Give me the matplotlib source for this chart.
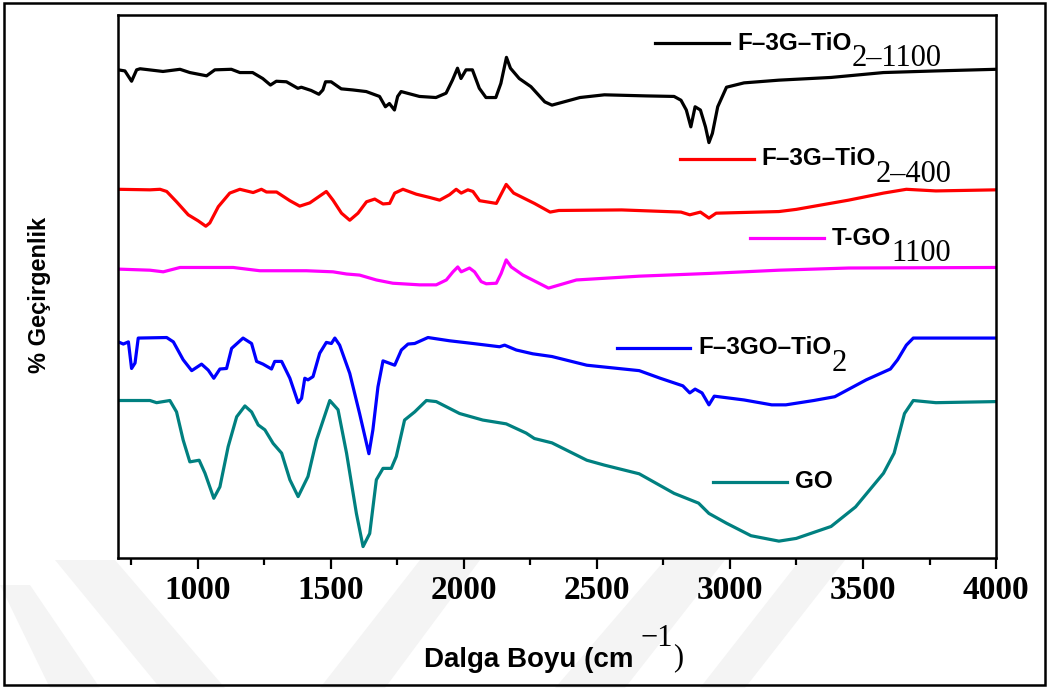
import numpy as np
import matplotlib
matplotlib.use('Agg')
import matplotlib.pyplot as plt
from matplotlib.lines import Line2D
from matplotlib.patches import Rectangle, Polygon

# FTIR spectra: wavenumber (cm-1), %T (stacked, a.u.)
wn_f3g1100 = [701, 726, 751, 770, 783, 869, 933, 970, 1033, 1064, 1126, 1158, 1206, 1244, 1273,
              1295, 1333, 1376, 1389, 1426, 1455, 1470, 1480, 1501, 1539, 1582, 1633, 1683, 1705,
              1720, 1739, 1751, 1764, 1833, 1895, 1933, 1957, 1976, 1989, 2008, 2032, 2058, 2083,
              2120, 2139, 2160, 2175, 2208, 2252, 2304, 2331, 2436, 2528, 2685, 2790, 2816, 2836,
              2853, 2869, 2889, 2908, 2921, 2934, 2954, 2987, 3053, 3184, 3380, 3577, 3774, 4000]
t_f3g1100 = [89.9, 89.7, 87.8, 89.9, 90.1, 89.6, 90.0, 89.4, 88.8, 89.9, 90.0, 89.4, 89.4, 88.3, 87.1,
             87.8, 87.7, 86.5, 86.7, 86.1, 85.4, 86.2, 87.7, 87.7, 86.4, 86.2, 85.9, 85.0, 83.1,
             83.7, 82.5, 85.0, 85.9, 85.0, 84.8, 85.6, 88.0, 90.2, 88.3, 89.9, 89.9, 86.5, 84.8,
             84.8, 87.4, 92.2, 90.2, 88.3, 86.8, 84.0, 83.4, 84.8, 85.3, 85.1, 85.0, 84.3, 82.5,
             79.4, 83.1, 82.5, 79.4, 76.5, 78.2, 83.1, 86.7, 87.5, 88.0, 88.5, 89.4, 89.7, 90.0]

wn_f3g400 = [701, 820, 858, 883, 920, 964, 1001, 1030, 1045, 1077, 1120, 1158, 1208, 1239, 1258,
             1296, 1346, 1383, 1421, 1483, 1508, 1540, 1571, 1602, 1634, 1665, 1696, 1721, 1740,
             1771, 1821, 1871, 1909, 1946, 1971, 1990, 2015, 2034, 2059, 2122, 2159, 2187, 2265,
             2324, 2357, 2593, 2816, 2849, 2889, 2921, 2948, 3184, 3249, 3446, 3577, 3663, 3774, 4000]
t_f3g400 = [67.9, 67.8, 67.9, 67.5, 65.6, 63.2, 62.1, 61.1, 61.7, 64.7, 67.2, 67.9, 67.3, 67.9, 67.4,
            67.4, 65.8, 64.8, 65.4, 67.5, 65.9, 63.5, 62.2, 63.5, 65.6, 66.1, 65.2, 65.3, 67.2,
            67.9, 67.0, 66.4, 65.9, 66.9, 67.9, 67.2, 67.8, 67.5, 65.8, 65.3, 68.8, 67.2, 65.3,
            63.7, 64.0, 64.1, 63.7, 63.2, 63.7, 62.6, 63.5, 63.8, 64.2, 65.9, 67.2, 67.9, 67.6, 67.8]

wn_tgo = [701, 820, 870, 933, 1133, 1233, 1408, 1508, 1559, 1608, 1671, 1733, 1834, 1896, 1934,
          1959, 1977, 1990, 2021, 2040, 2065, 2084, 2122, 2140, 2159, 2178, 2222, 2318, 2423,
          2659, 2921, 3184, 3446, 4000]
t_tgo = [53.2, 53.0, 52.7, 53.5, 53.5, 52.9, 52.9, 52.7, 52.3, 52.1, 51.2, 50.6, 50.3, 50.3, 51.2,
         52.7, 53.6, 52.7, 53.4, 52.7, 50.9, 50.5, 50.6, 52.4, 54.9, 53.6, 52.1, 49.7, 51.2,
         51.9, 52.4, 53.0, 53.4, 53.5]

wn_f3go = [701, 720, 739, 751, 764, 776, 883, 908, 945, 977, 1014, 1039, 1060, 1083, 1108, 1127,
           1170, 1202, 1221, 1245, 1277, 1289, 1315, 1346, 1377, 1390, 1402, 1414, 1433, 1458,
           1483, 1502, 1515, 1533, 1571, 1608, 1643, 1658, 1677, 1696, 1740, 1765, 1790, 1815,
           1865, 1946, 2034, 2134, 2153, 2197, 2259, 2331, 2462, 2659, 2738, 2823, 2849, 2869,
           2895, 2921, 2941, 3053, 3157, 3210, 3315, 3394, 3512, 3603, 3630, 3663, 3689, 4000]
t_f3go = [39.8, 39.4, 39.8, 34.9, 35.9, 40.5, 40.6, 39.8, 36.5, 34.5, 35.7, 34.6, 33.1, 34.8, 34.9, 38.6,
          40.5, 39.5, 36.2, 35.7, 34.8, 36.2, 36.2, 33.1, 28.6, 29.4, 33.1, 32.8, 33.4, 37.7,
          39.7, 39.5, 40.5, 39.2, 34.0, 26.6, 19.2, 23.6, 31.5, 36.3, 35.5, 38.3, 39.4, 39.5,
          40.6, 40.0, 39.5, 38.9, 39.2, 38.3, 37.6, 37.1, 35.5, 34.5, 33.1, 31.7, 30.4, 31.1,
          30.4, 28.2, 29.8, 29.1, 28.2, 28.2, 29.0, 29.7, 32.8, 34.8, 36.5, 39.2, 40.5, 40.5]

wn_go = [701, 820, 845, 895, 920, 945, 970, 1005, 1027, 1060, 1083, 1114, 1146, 1177, 1202, 1227,
         1252, 1283, 1315, 1346, 1377, 1414, 1446, 1496, 1527, 1559, 1596, 1621, 1646, 1671,
         1696, 1727, 1746, 1777, 1815, 1859, 1896, 1984, 2071, 2159, 2234, 2265, 2331, 2462,
         2528, 2659, 2790, 2882, 2921, 2987, 3079, 3184, 3249, 3380, 3472, 3577, 3617, 3656,
         3689, 3774, 4000]
t_go = [29.0, 29.0, 28.6, 29.0, 26.9, 21.7, 17.7, 18.0, 15.6, 11.0, 13.1, 20.5, 26.0, 28.0, 26.9, 24.5,
        23.6, 21.1, 19.3, 14.4, 11.3, 15.0, 21.7, 29.0, 27.3, 19.3, 8.2, 2.1, 4.5, 14.4,
        16.5, 16.5, 18.7, 25.4, 26.9, 29.0, 28.8, 26.6, 25.4, 24.7, 23.0, 22.0, 21.2, 18.0,
        17.1, 15.5, 11.9, 10.1, 8.2, 6.4, 4.1, 3.1, 3.6, 5.8, 9.4, 15.6, 19.3, 26.6,
        29.0, 28.6, 28.8]

spectra = [
    (wn_f3g1100, t_f3g1100, 'black'),
    (wn_f3g400, t_f3g400, '#ff0000'),
    (wn_tgo, t_tgo, '#ff00ff'),
    (wn_f3go, t_f3go, '#0000ff'),
    (wn_go, t_go, '#008080'),
]

# label text (main part, subscript part) and where the key sits (axes fraction)
labels = [('F–3G–TiO', '2–1100'), ('F–3G–TiO', '2–400'), ('T-GO', '1100'),
          ('F–3GO–TiO', '2'), ('GO', '')]
key_pos = [(0.612, 0.948), (0.640, 0.735), (0.720, 0.589), (0.568, 0.387), (0.678, 0.140)]

sans = 'Liberation Sans'
serif = 'Liberation Serif'

fig = plt.figure(figsize=(10.48, 6.88), dpi=100)

# faint watermark bands in the bottom margin (figure pixels)
W, H = 1048.0, 688.0
bands = [[(55, 560), (115, 560), (225, 688), (160, 688)],
         [(0, 585), (30, 585), (100, 688), (50, 688)],
         [(420, 560), (480, 560), (385, 688), (320, 688)],
         [(665, 560), (725, 560), (625, 688), (555, 688)],
         [(800, 560), (845, 560), (745, 688), (700, 688)]]
for b in bands:
    fig.patches.append(Polygon([(x / W, 1 - y / H) for x, y in b], closed=True,
                               transform=fig.transFigure, fc='#f4f4f4', ec='none', zorder=-5))

ax = fig.add_axes([0.1126, 0.189, 0.8378, 0.7892])
ax.set_zorder(1)
ax.patch.set_alpha(0)

for wn, t, c in spectra:
    ax.plot(wn, t, color=c, lw=2.3, solid_joinstyle='round')

for (main, sub), (x0, y0), (_, _, c) in zip(labels, key_pos, spectra):
    ax.add_line(Line2D([x0, x0 + 0.084], [y0, y0], color=c, lw=2.3,
                       transform=ax.transAxes))
    t = ax.text(x0 + 0.093, y0, main, transform=ax.transAxes, fontsize=17.5,
                fontweight='bold', family=sans, va='center', ha='left')
    if sub:
        ax.annotate(sub, xy=(1.0, 0.45), xycoords=t, fontsize=22, family=serif,
                    va='top', ha='left')

ax.set_xlim(700, 4000)
ax.set_ylim(0, 100)
ax.set_xticks(np.arange(1000, 4001, 500))
ax.set_xticks(np.arange(750, 4001, 250), minor=True)
ax.set_yticks([])
ax.tick_params(axis='x', which='major', direction='out', length=8, width=1.6, pad=4)
ax.tick_params(axis='x', which='minor', direction='out', length=5, width=1.6)
for lab in ax.get_xticklabels():
    lab.set_family(serif)
    lab.set_fontsize(24)
    lab.set_fontweight('bold')
for s in ax.spines.values():
    s.set_linewidth(1.8)

# axis titles
xl = fig.text(0.405, 0.031, 'Dalga Boyu (cm', fontsize=20, fontweight='bold', family=sans,
              ha='left', va='baseline')
ex = ax.annotate('−1', xy=(1.0, 0.75), xycoords=xl, xytext=(5, 0), textcoords='offset points',
                 fontsize=22, family=serif, va='bottom', ha='left', annotation_clip=False)
ax.annotate(')', xy=(1.0, 0.0), xycoords=(ex, xl), fontsize=22, family=serif,
            va='bottom', ha='left', annotation_clip=False)

fig.text(0.038, 0.571, '% Geçirgenlik', rotation=90, fontsize=17, fontweight='bold',
         family=sans, ha='center', va='center')

# frame round the whole figure
fig.patches.append(Rectangle((0.004, 0.004), 0.993, 0.992, transform=fig.transFigure,
                             fill=False, lw=1.8, ec='black'))

fig.savefig('out.png', dpi=100)
